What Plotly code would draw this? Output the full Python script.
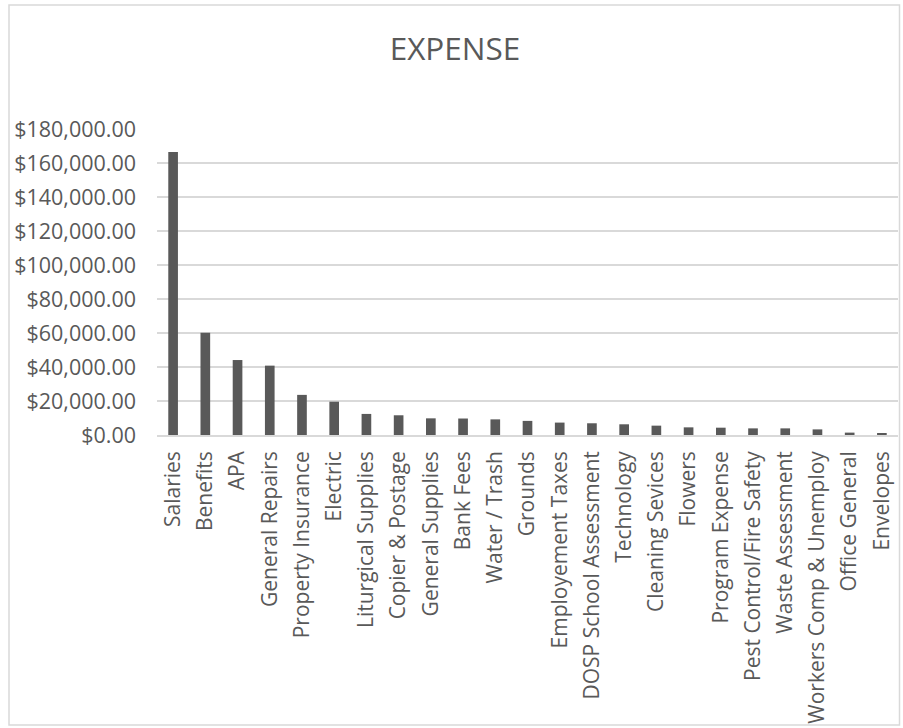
import plotly.graph_objects as go

categories = ["Salaries", "Benefits", "APA", "General Repairs", "Property Insurance",
              "Electric", "Liturgical Supplies", "Copier & Postage", "General Supplies",
              "Bank Fees", "Water / Trash", "Grounds", "Employement Taxes",
              "DOSP School Assessment", "Technology", "Cleaning Sevices", "Flowers",
              "Program Expense", "Pest Control/Fire Safety", "Waste Assessment",
              "Workers Comp & Unemploy", "Office General", "Envelopes"]
expense = [166500, 60200, 44100, 40800, 23600, 19600, 12400, 11600, 9800,
           9700, 9200, 8300, 7300, 6900, 6300, 5500, 4500, 4300, 3900, 3900,
           3300, 1400, 1000]
tick_vals = [0, 20000, 40000, 60000, 80000, 100000, 120000, 140000, 160000, 180000]
tick_text = ["$0.00", "$20,000.00", "$40,000.00", "$60,000.00", "$80,000.00",
             "$100,000.00", "$120,000.00", "$140,000.00", "$160,000.00", "$180,000.00"]

W, H = 903, 728
L, R, T, B = 157, 5, 129, 293
pw, ph = W - L - R, H - T - B

fig = go.Figure(go.Bar(x=categories, y=expense, marker_color="#595959",
                       marker_line_width=0, width=0.3))

font = "Open Sans, Liberation Sans, sans-serif"
fig.update_layout(
    width=W, height=H,
    margin=dict(l=L, r=R, t=T, b=B, autoexpand=False),
    paper_bgcolor="white", plot_bgcolor="white",
    showlegend=False,
    title=dict(text="EXPENSE", x=455 / W, xref="container", xanchor="center",
               y=1 - 49 / H, yref="container", yanchor="middle",
               font=dict(family=font, size=31.5, color="#595959")),
    font=dict(family=font, color="#595959"),
    bargap=0.7,
)
fig.update_xaxes(tickangle=-90, tickfont=dict(size=21, color="#595959"),
                 showline=True, linecolor="#d9d9d9", linewidth=1.5,
                 ticks="", showgrid=False, ticklabelstandoff=6)
fig.update_yaxes(range=[0, 180000], tickvals=tick_vals, ticktext=tick_text,
                 tickfont=dict(size=21.5, color="#595959"),
                 showgrid=True, gridcolor="#d9d9d9", gridwidth=1.5,
                 zeroline=False, showline=False, ticks="", ticklabelstandoff=20)

# chart border
x0 = (9 - L) / pw
x1 = (899.5 - L) / pw
y1 = (H - B - 5) / ph
y0 = (H - B - 725) / ph
fig.add_shape(type="rect", xref="paper", yref="paper", x0=x0, x1=x1, y0=y0, y1=y1,
              line=dict(color="#d9d9d9", width=1.5), fillcolor="rgba(0,0,0,0)", layer="below")

fig.write_html("out.html", config={"displayModeBar": False},
               post_script="document.body.style.margin='0';")
